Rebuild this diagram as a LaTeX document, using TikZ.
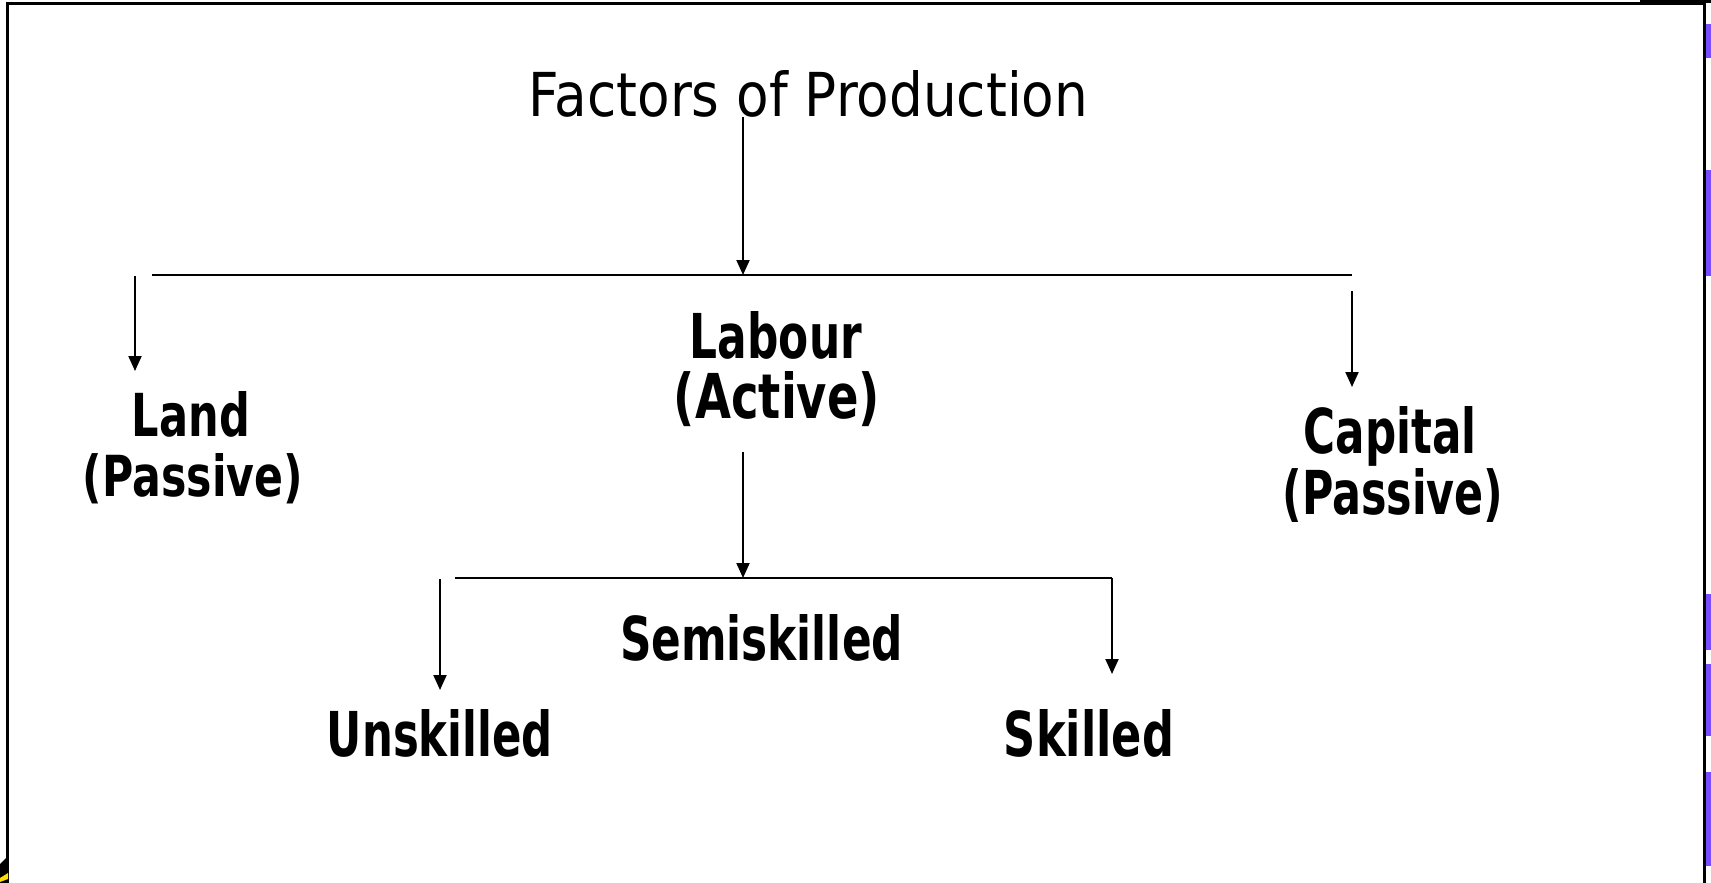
\documentclass[tikz,border=0pt]{standalone}
\usepackage{fontspec}
\setmainfont{DejaVu Sans}
\usepackage{graphicx}
\usetikzlibrary{arrows.meta}
\definecolor{slidepurple}{RGB}{122,76,255}
\tikzset{
  lbl/.style={inner sep=0pt, anchor=base, font=\bfseries},
  ttl/.style={inner sep=0pt, anchor=base},
  conn/.style={line width=2pt},
  arr/.style={line width=2pt, -{Triangle[width=13pt,length=15pt]}},
  frame/.style={line width=3pt},
}
\newcommand{\fittxt}[3]{\resizebox{#1pt}{#2pt}{#3}}
\begin{document}
\begin{tikzpicture}[x=1pt,y=-1pt]
\fill[white] (0,0) rectangle (1711,883);
\useasboundingbox (0,0) rectangle (1711,883);
% frame of the slide
\draw[frame] (7.5,883) -- (7.5,4) -- (1704,4) -- (1704,883);
\fill[black] (1640,0) rectangle (1711,3);
\fill[black] (0,864) -- (8,856) -- (8,883) -- (0,883) -- cycle;
\fill[yellow!80!orange] (0,878) -- (8,873) -- (8,879) -- (0,882) -- cycle;
\fill[slidepurple] (1706,24) rectangle (1711,58);
\fill[slidepurple] (1706,170) rectangle (1711,276);
\fill[slidepurple] (1706,594) rectangle (1711,650);
\fill[slidepurple] (1706,664) rectangle (1711,736);
\fill[slidepurple] (1706,772) rectangle (1711,866);

% title
\node[ttl] (title) at (808.5,117) {\fittxt{559}{46}{Factors of Production}};

% labels
\node[lbl] (land)     at (191,436)    {\fittxt{118}{45}{Land}};
\node[lbl] (landp)    at (193,496)    {\fittxt{220}{43}{(Passive)}};
\node[lbl] (labour)   at (776,358)    {\fittxt{172}{47}{Labour}};
\node[lbl] (laboura)  at (777,418)    {\fittxt{206}{47}{(Active)}};
\node[lbl] (capital)  at (1390,453)   {\fittxt{173}{47}{Capital}};
\node[lbl] (capitalp) at (1393,514)   {\fittxt{221}{46}{(Passive)}};
\node[lbl] (semi)     at (761.5,660)  {\fittxt{283}{46}{Semiskilled}};
\node[lbl] (unsk)     at (440,756)    {\fittxt{226}{47}{Unskilled}};
\node[lbl] (skil)     at (1089,756)   {\fittxt{170}{47}{Skilled}};

% connector points
\coordinate (t0) at (743,117);
\coordinate (j1) at (743,275);
\coordinate (hl) at (152,275);
\coordinate (hr) at (1352,275);
\coordinate (la0) at (135,276);
\coordinate (la1) at (135,371);
\coordinate (ca0) at (1352,291);
\coordinate (ca1) at (1352,387);
\coordinate (lb0) at (743,452);
\coordinate (j2) at (743,578);
\coordinate (h2l) at (455,578);
\coordinate (h2r) at (1112,578);
\coordinate (un0) at (440,579);
\coordinate (un1) at (440,690);
\coordinate (sk1) at (1112,674);

\draw[arr] (t0) -- (j1);
\draw[conn] (hl) -- (hr);
\draw[arr] (la0) -- (la1);
\draw[arr] (ca0) -- (ca1);
\draw[arr] (lb0) -- (j2);
\draw[conn] (h2l) -- (h2r);
\draw[arr] (un0) -- (un1);
\draw[arr] (h2r) -- (sk1);
\end{tikzpicture}
\end{document}
